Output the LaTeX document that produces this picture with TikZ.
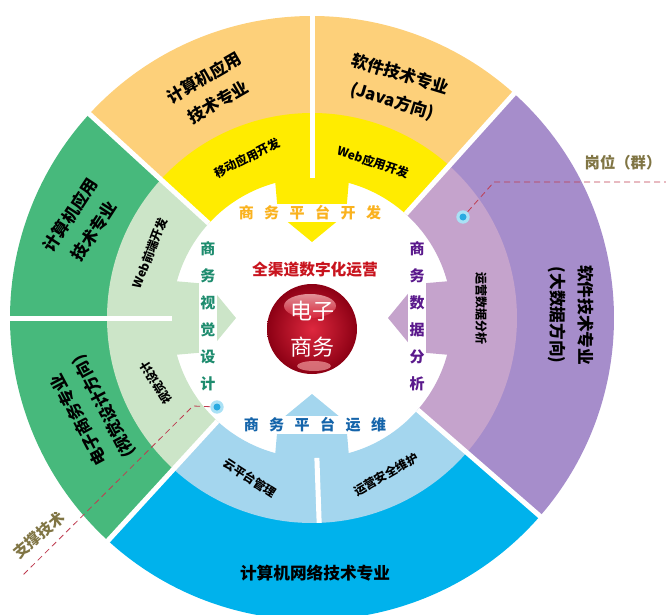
\documentclass[tikz,border=0pt]{standalone}
\usepackage{fontspec}
\setmainfont{Noto Sans CJK SC}
\definecolor{orangeband}{RGB}{253,208,122}
\definecolor{yellowband}{RGB}{255,236,0}
\definecolor{greendark}{RGB}{71,185,124}
\definecolor{greenlight}{RGB}{204,229,200}
\definecolor{purpledark}{RGB}{166,141,203}
\definecolor{purplelight}{RGB}{197,163,204}
\definecolor{bluedark}{RGB}{0,178,236}
\definecolor{bluelight}{RGB}{164,214,238}
\definecolor{devamber}{RGB}{250,178,30}
\definecolor{visteal}{RGB}{30,140,110}
\definecolor{dataviolet}{RGB}{90,25,140}
\definecolor{opsblue}{RGB}{20,100,170}
\definecolor{titlered}{RGB}{200,20,30}
\definecolor{tagolive}{RGB}{128,117,68}
\definecolor{leadred}{RGB}{190,60,80}
\definecolor{dotcore}{RGB}{40,170,225}
\definecolor{dotglow}{RGB}{170,225,245}
\definecolor{spherelight}{RGB}{222,40,62}
\definecolor{spheredark}{RGB}{140,0,20}
\newcommand{\ringpart}[5]{\fill[#1] (#2:#4) arc[start angle=#2, end angle=#3, radius=#4] -- (#3:#5) arc[start angle=#3, end angle=#2, radius=#5] -- cycle;}
\newcommand{\sgap}{\hspace{.7em}}

\begin{document}
\begin{tikzpicture}[x=0.75pt, y=0.75pt,
    majortext/.style={font=\bfseries\fontsize{12.5}{21}\selectfont, align=center},
    minortext/.style={font=\bfseries\fontsize{9}{11}\selectfont},
    themetext/.style={fill=white, inner sep=1pt, font=\bfseries\fontsize{11.25}{20.25}\selectfont, align=center},
    gapline/.style={white, line width=3.75pt},
    lead/.style={leadred, dash pattern=on 4.5pt off 3pt, line width=0.6pt},
    tagtext/.style={tagolive, font=\bfseries\fontsize{11.5}{13}\selectfont},
    bluedot/.style={circle, fill=dotglow, minimum size=10pt, inner sep=0pt,
        path picture={\fill[dotcore] (path picture bounding box.center) circle (3.5);}}]
    \clip (-312,-296) rectangle (354,318);
    \foreach \rot/\col in {0/yellowband, 90/greenlight, 180/bluelight, -90/purplelight}
        \fill[\col, rotate=\rot] (-38,150) -- (38,150) -- (34,104) -- (0,76) -- (-34,104) -- cycle;
    \ringpart{orangeband}{90}{137.5}{204}{302}
    \ringpart{orangeband}{48}{90}{204}{302}
    \ringpart{purpledark}{-41}{48}{204}{302}
    \ringpart{bluedark}{-132.5}{-41}{204}{302}
    \ringpart{greendark}{180}{227.5}{204}{302}
    \ringpart{greendark}{137.5}{180}{204}{302}
    \ringpart{yellowband}{90}{137.5}{140}{205}
    \ringpart{yellowband}{48}{90}{140}{205}
    \ringpart{purplelight}{-41}{48}{140}{205}
    \ringpart{bluelight}{-88}{-41}{140}{205}
    \ringpart{bluelight}{-132.5}{-88}{140}{205}
    \ringpart{greenlight}{180}{227.5}{140}{205}
    \ringpart{greenlight}{137.5}{180}{140}{205}
    \foreach \a in {48,90,137.5,180,227.5,319}
        \draw[gapline] (\a:140) -- (\a:306);
    \draw[gapline] (-88:140) -- (-88:205);

    \node[majortext, rotate=30] (appleft) at (-101,228) {计算机应用\\技术专业};
    \node[majortext, rotate=-17] (javaright) at (84,230) {软件技术专业\\(Java方向)};
    \node[majortext, rotate=-90] (bigdata) at (259,3) {软件技术专业\\(大数据方向)};
    \node[majortext] (network) at (3,-255) {计算机网络技术专业};
    \node[majortext, rotate=57] (appgreen) at (-230,95) {计算机应用\\技术专业};
    \node[majortext, rotate=118] (ecommerce) at (-220,-95) {电子商务专业\\(视觉设计方向)};

    \node[minortext, rotate=27] (mobile) at (-65,160) {移动应用开发};
    \node[minortext, rotate=-18] (webapp) at (61,156) {Web应用开发};
    \node[minortext, rotate=69] (webfront) at (-162,65) {Web前端开发};
    \node[minortext, rotate=122] (visual) at (-156,-65) {视觉设计};
    \node[minortext, rotate=-33] (cloud) at (-62,-160) {云平台管理};
    \node[minortext, rotate=30] (security) at (74,-157) {运营安全维护};
    \node[minortext, rotate=-90] (dataops) at (169,10) {运营数据分析};

    \node[themetext, text=devamber] (devtheme) at (-2,105) {商\sgap 务\sgap 平\sgap 台\sgap 开\sgap 发};
    \node[themetext, text=opsblue] (opstheme) at (3,-107) {商\sgap 务\sgap 平\sgap 台\sgap 运\sgap 维};
    \node[themetext, text=visteal] (vistheme) at (-104,2) {商\\务\\视\\觉\\设\\计};
    \node[themetext, text=dataviolet] (datatheme) at (105,2) {商\\务\\数\\据\\分\\析};
    \node[text=titlered, font=\bfseries\fontsize{11.8}{14}\selectfont] (title) at (3,48) {全渠道数字化运营};

    \shade[inner color=spherelight, outer color=spheredark] (0,-11) circle (45);
    \shade[top color=white!80!red, bottom color=spherelight, opacity=0.7] (-2,12) ellipse (26 and 12);
    \fill[white!70!red, opacity=0.6] (2,-48) ellipse (17 and 5);
    \node[white, align=center, font=\fontsize{16.5}{27}\selectfont] (core) at (0,-11) {电子\\商务};

    \node[bluedot] (jobdot) at (151,101) {};
    \coordinate (jobbend) at (182,136);
    \coordinate (jobend) at (354,136);
    \draw[lead] (jobdot) -- (jobbend) -- (jobend);
    \node[tagtext] (jobtag) at (311,155) {岗位（群）};
    \node[bluedot] (techdot) at (-95,-89) {};
    \coordinate (techbend) at (-119,-88);
    \coordinate (techend) at (-290,-258);
    \draw[lead] (techdot) -- (techbend) -- (techend);
    \node[tagtext, rotate=40] (techtag) at (-273,-217) {支撑技术};
\end{tikzpicture}
\end{document}
